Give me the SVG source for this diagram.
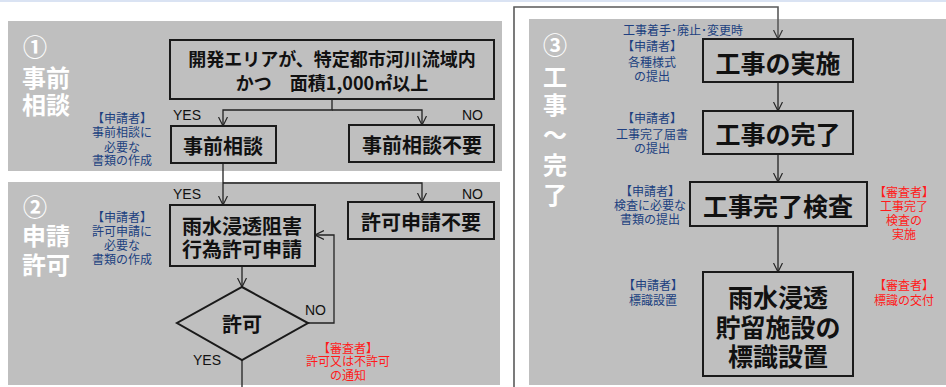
<svg xmlns="http://www.w3.org/2000/svg" width="946" height="387" viewBox="0 0 946 387">
<defs>
<style>
.panel{fill:#bfbfbf}
.box{fill:#bfbfbf;stroke:#1a1a1a;stroke-width:2}
.bt{font-family:"Noto Sans CJK JP","Noto Sans",sans-serif;font-weight:bold;fill:#111;text-anchor:middle;dominant-baseline:central}
.title{font-family:"Noto Sans CJK JP","Noto Sans",sans-serif;font-weight:bold;fill:#ffffff;font-size:24px;dominant-baseline:central}
.ap{font-family:"Noto Sans CJK JP",sans-serif;fill:#203f80;font-size:12px;text-anchor:middle;dominant-baseline:central}
.ar{font-family:"Noto Sans CJK JP",sans-serif;fill:#ff1a1a;font-size:12px;text-anchor:middle;dominant-baseline:central}
.yn{font-family:"Liberation Sans",Arial,sans-serif;fill:#111;font-size:14px;dominant-baseline:central}
.ln{fill:none;stroke:#222;stroke-width:1.3}
</style>
<marker id="arr" viewBox="0 0 10 10" refX="10" refY="5" markerWidth="9" markerHeight="10" markerUnits="userSpaceOnUse" orient="auto">
<path d="M0,0 L10,5 L0,10" fill="none" stroke="#222" stroke-width="1.3"/>
</marker>
<marker id="arrg" viewBox="0 0 10 10" refX="10" refY="5" markerWidth="9" markerHeight="10" markerUnits="userSpaceOnUse" orient="auto">
<path d="M0,0 L10,5 L0,10" fill="none" stroke="#333" stroke-width="1.3"/>
</marker>
</defs>
<rect x="0" y="0" width="946" height="387" fill="#ffffff"/>
<rect x="0" y="0" width="946" height="2" fill="#dae3f3"/>

<g id="panels">
<rect class="panel" x="8" y="21" width="494" height="150"/>
<rect class="panel" x="8" y="182" width="492" height="203"/>
<rect class="panel" x="529" y="19" width="417" height="366"/>
</g>

<g id="titles">
<text class="title"><tspan x="23" y="45">①</tspan><tspan x="22" y="76">事前</tspan><tspan x="22" y="103">相談</tspan></text>
<text class="title"><tspan x="23" y="205">②</tspan><tspan x="22" y="234">申請</tspan><tspan x="22" y="263">許可</tspan></text>
<text class="title" text-anchor="middle"><tspan x="555" y="43">③</tspan><tspan x="555" y="75">工</tspan><tspan x="555" y="103">事</tspan><tspan x="555" y="133">～</tspan><tspan x="555" y="163">完</tspan><tspan x="555" y="193">了</tspan></text>
</g>

<g id="connectors">
<path class="ln" d="M332,99 V110 H223 V126" marker-end="url(#arr)"/>
<path class="ln" d="M332,110 H422 V125" marker-end="url(#arr)"/>
<path class="ln" d="M223,163 V205" marker-end="url(#arr)"/>
<path class="ln" d="M223,183 H422 V202" marker-end="url(#arr)"/>
<path class="ln" d="M242,266 V287" marker-end="url(#arr)"/>
<path class="ln" d="M308,323 H334 V235 H315" marker-end="url(#arr)"/>
<path class="ln" d="M242,360 V387"/>
<path fill="none" stroke="#5a5a5a" stroke-width="1.6" d="M514,387 V7 H778 V39" marker-end="url(#arrg)"/>
<path class="ln" d="M778,82 V111" marker-end="url(#arr)"/>
<path class="ln" d="M778,154 V182" marker-end="url(#arr)"/>
<path class="ln" d="M778,226 V272" marker-end="url(#arr)"/>
</g>

<g id="labels">
<text class="yn" x="173" y="115">YES</text>
<text class="yn" x="462" y="115">NO</text>
<text class="yn" x="173" y="194">YES</text>
<text class="yn" x="462" y="194">NO</text>
<text class="yn" x="305" y="310">NO</text>
<text class="yn" x="193" y="360">YES</text>
</g>

<g id="node-condition">
<rect class="box" x="170" y="40" width="324" height="59"/>
<text class="bt" font-size="18"><tspan x="332" y="58">開発エリアが、特定都市河川流域内</tspan><tspan x="332" y="82">かつ　面積1,000㎡以上</tspan></text>
</g>
<g id="node-consult">
<rect class="box" x="171" y="126" width="105" height="37"/>
<text class="bt" x="223" y="145" font-size="20">事前相談</text>
</g>
<g id="node-noconsult">
<rect class="box" x="349" y="125" width="145" height="37"/>
<text class="bt" x="422" y="144" font-size="20">事前相談不要</text>
</g>
<g id="note-consult">
<text class="ap"><tspan x="122" y="117">【申請者】</tspan><tspan x="122" y="131">事前相談に</tspan><tspan x="122" y="146">必要な</tspan><tspan x="122" y="159">書類の作成</tspan></text>
</g>

<g id="node-apply">
<rect class="box" x="170" y="205" width="145" height="61"/>
<text class="bt" font-size="20"><tspan x="242" y="225">雨水浸透阻害</tspan><tspan x="242" y="248">行為許可申請</tspan></text>
</g>
<g id="node-noapply">
<rect class="box" x="348" y="202" width="146" height="37"/>
<text class="bt" x="421" y="221" font-size="20">許可申請不要</text>
</g>
<g id="note-apply">
<text class="ap"><tspan x="122" y="216">【申請者】</tspan><tspan x="122" y="230">許可申請に</tspan><tspan x="122" y="244">必要な</tspan><tspan x="122" y="258">書類の作成</tspan></text>
</g>
<g id="node-permit">
<polygon class="box" points="242,287 308,323 242,360 177,323"/>
<text class="bt" x="242" y="323" font-size="20">許可</text>
</g>
<g id="note-permit">
<text class="ar"><tspan x="348" y="347">【審査者】</tspan><tspan x="348" y="360">許可又は不許可</tspan><tspan x="348" y="374">の通知</tspan></text>
</g>

<g id="note-start">
<text class="ap" x="683" y="29">工事着手･廃止･変更時</text>
</g>
<g id="node-work">
<rect class="box" x="703" y="39" width="150" height="43"/>
<text class="bt" x="778" y="62" font-size="25">工事の実施</text>
</g>
<g id="note-work">
<text class="ap"><tspan x="652" y="45">【申請者】</tspan><tspan x="652" y="61">各種様式</tspan><tspan x="652" y="75">の提出</tspan></text>
</g>
<g id="node-done">
<rect class="box" x="703" y="111" width="150" height="43"/>
<text class="bt" x="778" y="133" font-size="25">工事の完了</text>
</g>
<g id="note-done">
<text class="ap"><tspan x="652" y="117">【申請者】</tspan><tspan x="652" y="133">工事完了届書</tspan><tspan x="652" y="147">の提出</tspan></text>
</g>
<g id="node-inspect">
<rect class="box" x="690" y="182" width="177" height="44"/>
<text class="bt" x="778" y="205" font-size="25">工事完了検査</text>
</g>
<g id="note-inspect">
<text class="ap"><tspan x="650" y="190">【申請者】</tspan><tspan x="650" y="204">検査に必要な</tspan><tspan x="650" y="218">書類の提出</tspan></text>
</g>
<g id="note-inspect-r">
<text class="ar"><tspan x="904" y="191">【審査者】</tspan><tspan x="904" y="205">工事完了</tspan><tspan x="904" y="219">検査の</tspan><tspan x="904" y="233">実施</tspan></text>
</g>
<g id="node-sign">
<rect class="box" x="703" y="272" width="150" height="104"/>
<text class="bt" font-size="25"><tspan x="778" y="296">雨水浸透</tspan><tspan x="778" y="326">貯留施設の</tspan><tspan x="778" y="355">標識設置</tspan></text>
</g>
<g id="note-sign">
<text class="ap"><tspan x="653" y="284">【申請者】</tspan><tspan x="653" y="299">標識設置</tspan></text>
</g>
<g id="note-sign-r">
<text class="ar"><tspan x="904" y="284">【審査者】</tspan><tspan x="904" y="299">標識の交付</tspan></text>
</g>
</svg>
